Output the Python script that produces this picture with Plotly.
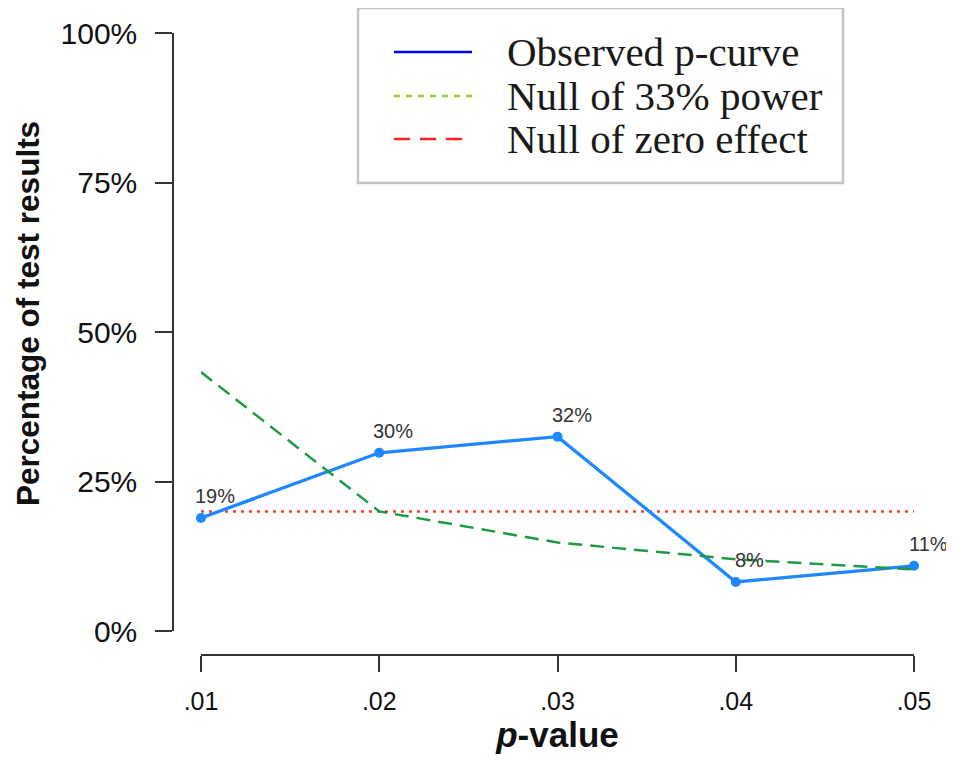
import plotly.graph_objects as go

# ---- data ----
p_values = [0.01, 0.02, 0.03, 0.04, 0.05]
x_tick_labels = [".01", ".02", ".03", ".04", ".05"]
observed = [18.9, 29.8, 32.5, 8.2, 10.9]
null_33_power = [43.3, 20.0, 14.8, 12.0, 10.3]
null_zero_effect = [20.0, 20.0, 20.0, 20.0, 20.0]
y_tick_vals = [0, 25, 50, 75, 100]
y_tick_labels = ["0%", "25%", "50%", "75%", "100%"]
legend_names = ["Observed p-curve", "Null of 33% power", "Null of zero effect"]

# ---- layout geometry (pixels, page offset compensated) ----
OFF = 8  # default body margin of the html page
W, H = 954, 761
L, R, T, B = 173 - OFF, 40 + OFF, 33 - OFF, 106 + OFF
PW, PH = W - L - R, H - T - B


def px2x(px):
    return (px - OFF - L) / PW


def px2y(py):
    return (H - B - (py - OFF)) / PH


BLUE = "#1f87ff"
GREEN = "#1e9a45"
RED = "#ff3a3a"

fig = go.Figure()

fig.add_trace(go.Scatter(
    x=p_values, y=null_zero_effect, mode="lines",
    line=dict(color=RED, width=2.5, dash="3px,5px"),
    showlegend=False, cliponaxis=False, name=legend_names[2]))
fig.add_trace(go.Scatter(
    x=p_values, y=observed, mode="lines+markers",
    line=dict(color=BLUE, width=3.3), marker=dict(color=BLUE, size=10),
    showlegend=False, cliponaxis=False, name=legend_names[0]))
fig.add_trace(go.Scatter(
    x=p_values, y=null_33_power, mode="lines",
    line=dict(color=GREEN, width=2.5, dash="14px,8px"),
    showlegend=False, cliponaxis=False, name=legend_names[1]))

annotations = []
for xv, yv in zip(p_values, observed):
    annotations.append(dict(
        x=xv, y=yv, xref="x", yref="y", text=f"{round(yv)}%",
        showarrow=False, xshift=14, yshift=22,
        font=dict(family="Liberation Sans, Arial, sans-serif", size=20, color="#333333")))

# y-axis title, placed as in the reference
annotations.append(dict(
    x=px2x(28), y=px2y(314), xref="paper", yref="paper",
    text="<b>Percentage of test results</b>", textangle=-90, showarrow=False,
    xanchor="center", yanchor="middle",
    font=dict(family="Liberation Sans, Arial, sans-serif", size=31.5, color="#111111")))

# ---- manual legend (box, line samples, labels) ----
leg_x0, leg_x1, leg_y0, leg_y1 = 358, 843, 8, 183
shapes = [dict(type="rect", xref="paper", yref="paper",
               x0=px2x(leg_x0), x1=px2x(leg_x1), y0=px2y(leg_y1), y1=px2y(leg_y0),
               line=dict(color="#c4c4c4", width=2.5), fillcolor="white", layer="above")]
leg_rows = [52, 96, 139]
leg_styles = [dict(color="#0000ff", width=2.5, dash="solid"),
              dict(color="#9acd32", width=2.5, dash="6px,6px"),
              dict(color="#ff2020", width=2.5, dash="16px,10px")]
for ry, st, nm in zip(leg_rows, leg_styles, legend_names):
    shapes.append(dict(type="line", xref="paper", yref="paper",
                       x0=px2x(394), x1=px2x(472), y0=px2y(ry), y1=px2y(ry),
                       line=st, layer="above"))
    annotations.append(dict(
        x=px2x(505), y=px2y(ry), xref="paper", yref="paper", text=nm,
        showarrow=False, xanchor="left", yanchor="middle",
        font=dict(family="Liberation Serif, Times New Roman, serif", size=41, color="#1a1a1a")))

fig.update_layout(
    width=W, height=H,
    margin=dict(l=L, r=R, t=T, b=B),
    paper_bgcolor="white", plot_bgcolor="white",
    font=dict(family="Liberation Sans, Arial, sans-serif", color="#111111"),
    showlegend=False,
    shapes=shapes,
    annotations=annotations,
    xaxis=dict(
        range=[0.01, 0.05], domain=[px2x(201), 1],
        anchor="free", position=0,
        showgrid=False, zeroline=False,
        showline=True, linecolor="#333333", linewidth=1.5,
        ticks="outside", ticklen=16, tickwidth=1.5, tickcolor="#333333",
        tickvals=p_values, ticktext=x_tick_labels,
        tickfont=dict(size=25, color="#111111"),
        ticklabelstandoff=8,
        title=dict(text="<b><i>p</i>-value</b>", font=dict(size=35, color="#111111"), standoff=0),
        automargin=False,
    ),
    yaxis=dict(
        range=[0, 100], domain=[px2y(631), 1],
        anchor="free", position=0,
        showgrid=False, zeroline=False,
        showline=True, linecolor="#333333", linewidth=1.5,
        ticks="outside", ticklen=17, tickwidth=1.5, tickcolor="#333333",
        tickvals=y_tick_vals, ticktext=y_tick_labels,
        tickfont=dict(size=30, color="#111111"),
        ticklabelstandoff=12,
        automargin=False,
    ),
)

fig.write_html("out.html")
